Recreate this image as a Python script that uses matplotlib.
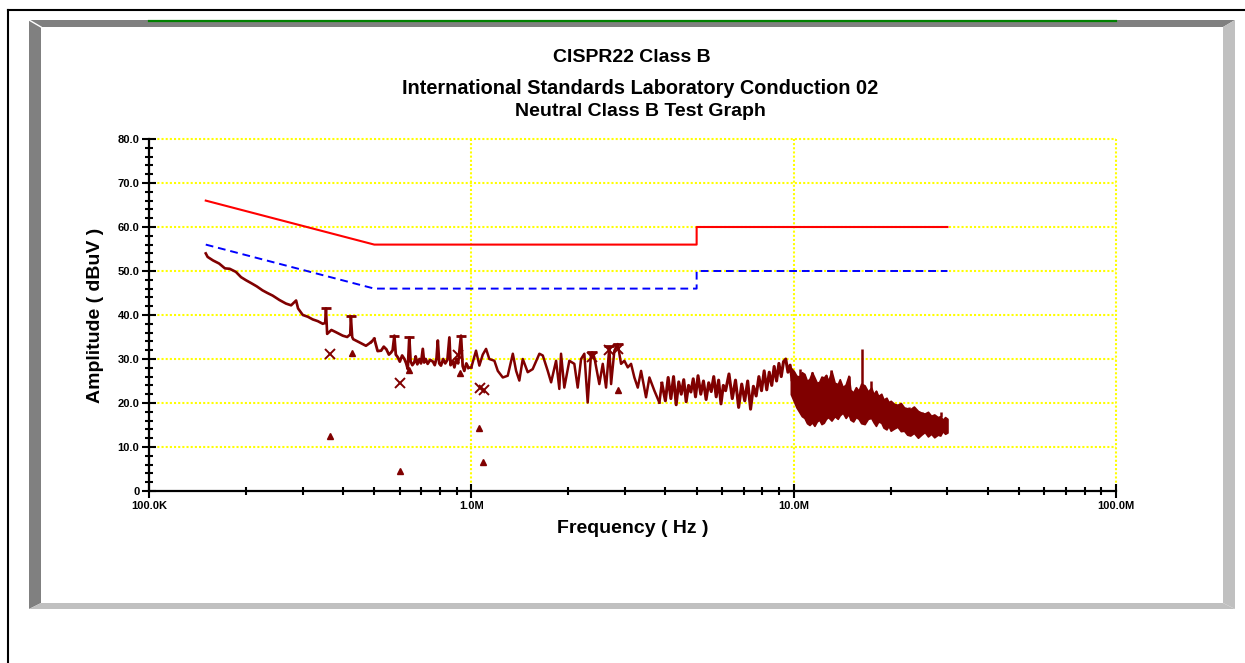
import numpy as np
import matplotlib
matplotlib.use('Agg')
import matplotlib.pyplot as plt
from matplotlib.patches import Polygon
from matplotlib.lines import Line2D
from matplotlib.ticker import FixedLocator, LogLocator, NullFormatter

plt.rcParams['font.family'] = ['Liberation Sans', 'DejaVu Sans']
plt.rcParams['font.weight'] = 'bold'

# limit lines (MHz, dBuV)
qp_f = [0.15, 0.5, 5.0, 5.0, 30.0]
qp_db = [66, 56, 56, 60, 60]
avg_f = [0.15, 0.5, 5.0, 5.0, 30.0]
avg_db = [56, 46, 46, 50, 50]

# measured trace in pieces (MHz, dBuV)
seg_a_f = [0.150, 0.152, 0.158, 0.165, 0.172, 0.178, 0.186, 0.193, 0.200, 0.208,
           0.216, 0.225, 0.233, 0.242, 0.254, 0.266, 0.276, 0.286, 0.290, 0.300,
           0.311, 0.322, 0.334, 0.346, 0.352, 0.354, 0.357, 0.368, 0.380, 0.399,
           0.412, 0.421, 0.423, 0.427, 0.430, 0.449, 0.471, 0.488]
seg_a_db = [54.0, 53.2, 52.4, 51.7, 50.6, 50.5, 49.8, 48.6, 47.9, 47.2,
            46.5, 45.6, 45.0, 44.4, 43.4, 42.6, 42.2, 43.3, 41.5, 40.0,
            39.6, 39.0, 38.6, 38.0, 38.2, 41.5, 35.7, 36.6, 36.1, 35.3,
            35.0, 35.6, 39.7, 35.0, 34.5, 33.8, 33.0, 33.8]

seg_b_f = [0.500, 0.512, 0.525, 0.535, 0.545, 0.555, 0.564, 0.570, 0.577, 0.583,
           0.591, 0.600, 0.610, 0.620, 0.628, 0.635, 0.642, 0.648, 0.656, 0.665,
           0.672, 0.680, 0.690, 0.698, 0.707, 0.714, 0.722, 0.732, 0.745, 0.760,
           0.770, 0.780, 0.787, 0.795, 0.805, 0.818, 0.830, 0.843, 0.855, 0.862,
           0.875, 0.886, 0.898, 0.910, 0.929, 0.940, 0.951, 0.965, 0.980]
seg_b_db = [34.6, 31.8, 31.9, 32.8, 32.2, 31.0, 31.5, 32.0, 35.3, 31.0,
            30.4, 29.4, 30.8, 30.0, 29.0, 27.7, 34.9, 29.5, 28.6, 29.2,
            30.6, 28.8, 30.0, 29.0, 32.3, 29.2, 30.0, 28.9, 29.8, 29.4,
            28.6, 30.2, 34.2, 29.0, 28.5, 30.0, 29.0, 29.8, 34.9, 28.6,
            29.6, 28.1, 30.0, 29.0, 35.3, 28.4, 27.3, 29.0, 28.0]

seg_c_f = [1.000, 1.034, 1.059, 1.085, 1.111, 1.137, 1.179, 1.208, 1.252, 1.297,
           1.345, 1.377, 1.409, 1.444, 1.496, 1.550, 1.626, 1.666, 1.726, 1.768,
           1.832, 1.875, 1.898, 1.943, 2.014, 2.087, 2.138, 2.190, 2.242, 2.296,
           2.352, 2.370, 2.407, 2.495, 2.557, 2.618, 2.680, 2.714, 2.778, 2.846,
           2.914, 2.984, 3.057, 3.130, 3.205, 3.284, 3.362, 3.483, 3.568, 3.697,
           3.831]
seg_c_db = [28.1, 31.9, 28.5, 31.0, 32.3, 30.0, 29.6, 27.3, 25.8, 26.2,
            31.2, 27.3, 25.1, 30.0, 27.0, 27.7, 31.2, 30.8, 27.3, 24.7,
            29.6, 23.2, 31.2, 23.5, 29.6, 28.9, 23.5, 30.0, 31.2, 20.1,
            31.2, 31.5, 30.4, 24.3, 28.9, 23.5, 32.7, 24.3, 31.9, 33.4,
            28.9, 29.6, 28.1, 28.9, 25.8, 23.5, 27.3, 21.3, 25.8, 22.8,
            20.1]

seg_d_f = [3.90, 4.00, 4.08, 4.16, 4.24, 4.32, 4.40, 4.48, 4.56, 4.64,
           4.72, 4.80, 4.88, 4.96, 5.05, 5.15, 5.25, 5.35, 5.45, 5.55,
           5.65, 5.75, 5.85, 5.95, 6.05, 6.15, 6.30, 6.45, 6.60, 6.75,
           6.90, 7.05, 7.20, 7.35, 7.50, 7.65, 7.80, 7.95, 8.10, 8.25,
           8.40, 8.55, 8.70, 8.85, 9.00, 9.15, 9.30, 9.45, 9.60, 9.75,
           9.90, 10.0]
seg_d_db = [24.5, 20.5, 25.8, 21.0, 26.0, 19.6, 24.8, 22.0, 25.3, 20.3,
            24.0, 22.5, 25.5, 21.4, 26.2, 22.0, 25.0, 20.8, 24.6, 22.6,
            26.0, 21.4, 25.2, 19.8, 24.0, 22.8, 26.6, 21.0, 25.2, 19.0,
            24.3, 20.5, 25.0, 18.6, 23.8, 21.6, 26.0, 22.8, 27.3, 23.0,
            27.0, 24.0, 28.3, 25.0, 29.0, 26.0, 29.4, 30.0, 27.0, 28.6,
            25.0, 26.6]

# dense part of the trace, 10M - 30M (upper / lower envelope)
band_f = [9.8, 10.0, 10.2, 10.4, 10.6, 10.8, 11.0, 11.2, 11.4, 11.6,
          11.8, 12.0, 12.2, 12.4, 12.6, 12.8, 13.1, 13.4, 13.7, 13.9,
          14.2, 14.5, 14.8, 15.0, 15.3, 15.6, 15.9, 16.2, 16.6, 17.0,
          17.4, 17.7, 18.0, 18.3, 18.7, 19.0, 19.4, 19.7, 20.0, 20.5,
          21.0, 21.5, 22.0, 22.5, 23.0, 23.6, 24.3, 24.9, 25.5, 26.1,
          26.7, 27.3, 28.0, 28.5, 29.0, 29.5, 30.0]
band_hi = [28.0, 27.3, 26.2, 26.0, 27.0, 26.6, 25.0, 25.5, 27.0, 25.8,
           24.6, 24.8, 26.0, 25.8, 26.4, 25.0, 27.3, 24.6, 24.3, 25.4,
           23.6, 24.2, 26.2, 23.0, 22.4, 23.6, 22.8, 24.4, 24.0, 22.6,
           23.5, 22.0, 22.8, 21.6, 22.1, 20.8, 21.2, 20.2, 20.5, 19.8,
           19.6, 20.0, 19.0, 18.8, 18.6, 19.2, 18.2, 17.8, 17.6, 18.0,
           17.1, 17.4, 16.8, 17.0, 16.2, 16.8, 16.4]
band_lo = [22.0, 20.5, 19.0, 18.0, 17.0, 16.6, 15.4, 15.0, 15.6, 14.8,
           15.8, 16.2, 15.2, 15.5, 16.4, 16.8, 16.0, 17.0, 16.4, 17.2,
           17.8, 16.6, 17.5, 16.2, 15.8, 16.8, 16.4, 15.4, 15.2, 16.4,
           16.6, 15.6, 14.8, 15.8, 15.5, 14.4, 14.0, 14.8, 13.7, 14.2,
           14.6, 13.6, 13.7, 12.8, 12.6, 13.2, 12.1, 12.8, 13.4, 12.4,
           13.0, 12.2, 12.8, 12.6, 13.6, 13.0, 13.3]
spike_f = [10.5, 11.4, 12.6, 13.1, 14.8, 16.3, 17.4, 18.0, 19.5, 22.8, 25.0, 28.6]
spike_db = [27.8, 27.0, 26.4, 27.6, 26.2, 32.3, 25.1, 22.8, 20.5, 19.0, 17.8, 16.9]

# peak caps, QP (x) and AVG (triangle) readings
cap_f = [0.354, 0.423, 0.577, 0.642, 0.929, 2.37, 2.68, 2.85]
cap_db = [41.5, 39.7, 35.3, 34.9, 35.3, 31.5, 33.0, 33.4]
qp_pt_f = [0.364, 0.601, 0.91, 1.065, 1.097, 2.37, 2.68, 2.85]
qp_pt_db = [31.2, 24.5, 31.0, 23.5, 23.0, 30.5, 32.0, 32.3]
av_pt_f = [0.364, 0.427, 0.601, 0.640, 0.925, 1.057, 1.09, 2.85]
av_pt_db = [12.6, 31.4, 4.6, 27.6, 26.8, 14.4, 6.5, 23.0]

x_ticks = [1e5, 1e6, 1e7, 1e8]
x_labels = ['100.0K', '1.0M', '10.0M', '100.0M']
y_ticks = [0, 10, 20, 30, 40, 50, 60, 70, 80]
y_labels = ['0', '10.0', '20.0', '30.0', '40.0', '50.0', '60.0', '70.0', '80.0']

W, H = 1245, 663
fig = plt.figure(figsize=(W / 100, H / 100), dpi=100)


def px(x, y):
    return (x / W, 1 - y / H)


# outer frame and bevelled panel
dark = '#808080'
light = '#c0c0c0'
fig.add_artist(Line2D([px(7.5, 10)[0], 1], [px(7.5, 10)[1]] * 2, color='black', lw=1.5, transform=fig.transFigure))
fig.add_artist(Line2D([px(7.5, 10)[0]] * 2, [px(7.5, 10)[1], 0], color='black', lw=1.5, transform=fig.transFigure))
panels = [
    ([(29, 20), (1235, 20), (1223, 27), (41, 27)], dark),
    ([(29, 20), (41, 27), (41, 603), (29, 609)], dark),
    ([(1223, 27), (1235, 20), (1235, 609), (1223, 603)], light),
    ([(29, 609), (41, 603), (1223, 603), (1235, 609)], light),
]
for pts, c in panels:
    fig.add_artist(Polygon([px(*p) for p in pts], closed=True, facecolor=c, edgecolor='none', transform=fig.transFigure))
fig.add_artist(Line2D([px(29, 20)[0], px(41, 27)[0]], [px(29, 20)[1], px(41, 27)[1]], color='white', lw=1, transform=fig.transFigure))
fig.add_artist(Line2D([px(149, 21)[0], px(1116, 21)[0]], [px(149, 21)[1]] * 2, color='#008000', lw=1.6, transform=fig.transFigure))

ax = fig.add_axes([149 / W, 1 - 491 / H, 967 / W, 352 / H])
ax.set_facecolor('none')
dark_red = '#800000'

ax.set_xscale('log')
ax.set_xlim(1e5, 1e8)
ax.set_ylim(0, 80)

grid_style = dict(color='#ffff00', lw=1.5, linestyle=(0, (1, 1)), zorder=1)
for yv in y_ticks[1:]:
    ax.axhline(yv, clip_on=False, **grid_style)
for xv in x_ticks[1:]:
    ax.axvline(xv, clip_on=False, **grid_style)

ax.plot(np.array(qp_f) * 1e6, qp_db, color='#ff0000', lw=1.5, zorder=3)
ax.plot(np.array(avg_f) * 1e6, avg_db, color='#0000ff', lw=1.4, dashes=(4, 2.5), zorder=3)

for seg_f, seg_db, lw in [(seg_a_f, seg_a_db, 1.9), (seg_b_f, seg_b_db, 2.0),
                          (seg_c_f, seg_c_db, 1.8), (seg_d_f, seg_d_db, 2.2)]:
    ax.plot(np.array(seg_f) * 1e6, seg_db, color=dark_red, lw=lw, zorder=4)
ax.plot([seg_a_f[-1] * 1e6, seg_b_f[0] * 1e6], [seg_a_db[-1], seg_b_db[0]], color=dark_red, lw=1.9, zorder=4)
ax.plot([seg_b_f[-1] * 1e6, seg_c_f[0] * 1e6], [seg_b_db[-1], seg_c_db[0]], color=dark_red, lw=1.9, zorder=4)
ax.plot([seg_c_f[-1] * 1e6, seg_d_f[0] * 1e6], [seg_c_db[-1], seg_d_db[0]], color=dark_red, lw=1.9, zorder=4)
ax.fill_between(np.array(band_f) * 1e6, band_lo, band_hi, color=dark_red, lw=1.2, edgecolor=dark_red, zorder=4)
ax.vlines(np.array(spike_f) * 1e6, 18, spike_db, color=dark_red, lw=1.8, zorder=4)

ax.plot(np.array(cap_f) * 1e6, cap_db, ls='none', marker='_', ms=7, mew=2, color=dark_red, zorder=5)
ax.plot(np.array(qp_pt_f) * 1e6, qp_pt_db, ls='none', marker='x', ms=7, mew=1.4, color=dark_red, zorder=5)
ax.plot(np.array(av_pt_f) * 1e6, av_pt_db, ls='none', marker='^', ms=4.5, color=dark_red, zorder=5)

for s in ['top', 'right']:
    ax.spines[s].set_visible(False)
for s in ['left', 'bottom']:
    ax.spines[s].set_linewidth(1.6)
    ax.spines[s].set_zorder(6)

ax.xaxis.set_major_locator(FixedLocator(x_ticks))
ax.set_xticklabels(x_labels)
ax.xaxis.set_minor_locator(LogLocator(base=10, subs=np.arange(2, 10)))
ax.xaxis.set_minor_formatter(NullFormatter())
ax.set_yticks(y_ticks)
ax.set_yticklabels(y_labels)
ax.yaxis.set_minor_locator(FixedLocator(np.arange(0, 81, 2)))

ax.tick_params(axis='both', which='major', direction='inout', length=10, width=1.5, labelsize=8, pad=2)
ax.tick_params(axis='both', which='minor', direction='inout', length=6, width=1.5)

ax.set_xlabel('Frequency ( Hz )', fontsize=14, fontweight='bold', labelpad=7)
ax.set_ylabel('Amplitude ( dBuV )', fontsize=14, fontweight='bold', labelpad=10)

fig.text(632 / W, 1 - 58 / H, 'CISPR22 Class B', ha='center', va='center', fontsize=14, fontweight='bold')
fig.text(640 / W, 1 - 88 / H, 'International Standards Laboratory Conduction 02', ha='center', va='center', fontsize=14.3, fontweight='bold')
fig.text(640 / W, 1 - 111 / H, 'Neutral Class B Test Graph', ha='center', va='center', fontsize=14, fontweight='bold')

fig.savefig('out.png', dpi=100)
